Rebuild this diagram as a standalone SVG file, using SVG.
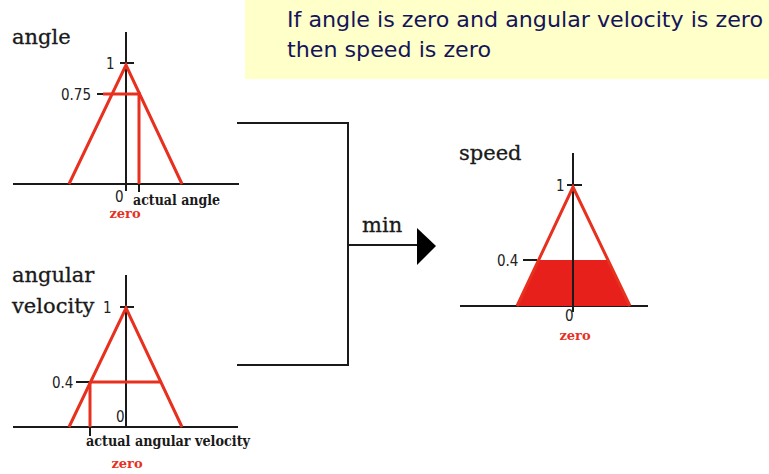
<svg xmlns="http://www.w3.org/2000/svg" width="769" height="474" viewBox="0 0 769 474">
<style>
.ax{stroke:#1a1a1a;stroke-width:2;fill:none}
.rd{stroke:#e8301f;stroke-width:3;fill:none}
.lbl{font-family:"DejaVu Serif","Liberation Serif",serif;fill:#1a1a1a;stroke:#1a1a1a;stroke-width:0.3}
.big{font-size:21px}
.sm{font-size:15px;font-family:"DejaVu Sans Condensed","Liberation Sans Narrow",sans-serif;fill:#222}
.zr{font-family:"DejaVu Serif","Liberation Serif",serif;font-size:13px;font-weight:bold;fill:#e8301f}
.act{font-family:"DejaVu Serif Condensed","DejaVu Serif","Liberation Serif",serif;font-size:14px;fill:#1a1a1a;font-weight:bold}
.rule{font-family:"DejaVu Sans","Noto Sans",sans-serif;font-size:21px;fill:#14145a}
</style>
<rect width="769" height="474" fill="#ffffff"/>
<g id="rule">
<rect x="245" y="0" width="524" height="79" fill="#ffffc9"/>
<text class="rule" x="287" y="27" textLength="476" lengthAdjust="spacingAndGlyphs">If angle is zero and angular velocity is zero</text>
<text class="rule" x="287" y="57" textLength="204" lengthAdjust="spacingAndGlyphs">then speed is zero</text>
</g>
<g id="angle">
<text class="lbl big" x="12" y="44">angle</text>
<line class="ax" x1="13" y1="184" x2="239" y2="184"/>
<line class="ax" x1="126" y1="32" x2="126" y2="191"/>
<line class="ax" x1="120" y1="63" x2="134" y2="63"/>
<line class="ax" x1="97" y1="94" x2="110" y2="94"/>
<line class="ax" x1="139" y1="184" x2="139" y2="192"/>
<polyline class="rd" points="69,184 126,65 182,184"/>
<line class="rd" x1="103" y1="94" x2="141" y2="94"/>
<line class="rd" x1="139" y1="94" x2="139" y2="184" stroke-width="4"/>
<text class="sm" x="106" y="69">1</text>
<text class="sm" x="61" y="100">0.75</text>
<text class="sm" x="115" y="202">0</text>
<text class="act" x="133" y="205">actual angle</text>
<text class="zr" x="125" y="218" text-anchor="middle">zero</text>
</g>
<g id="angular-velocity">
<text class="lbl big" x="12" y="282">angular</text>
<text class="lbl big" x="12" y="313">velocity</text>
<line class="ax" x1="13" y1="427" x2="238" y2="427"/>
<line class="ax" x1="126" y1="275" x2="126" y2="427"/>
<line class="ax" x1="120" y1="307" x2="134" y2="307"/>
<line class="ax" x1="76" y1="382" x2="90" y2="382"/>
<line class="ax" x1="90" y1="427" x2="90" y2="436"/>
<polyline class="rd" points="69,427 126,308 182,427"/>
<line class="rd" x1="90" y1="382" x2="162" y2="382"/>
<line class="rd" x1="90" y1="382" x2="90" y2="427" stroke-width="4"/>
<text class="sm" x="103" y="313">1</text>
<text class="sm" x="52" y="388">0.4</text>
<text class="sm" x="116" y="422">0</text>
<text class="act" x="86" y="446" textLength="164" lengthAdjust="spacingAndGlyphs">actual angular velocity</text>
<text class="zr" x="127" y="468" text-anchor="middle">zero</text>
</g>
<g id="speed">
<text class="lbl big" x="459" y="160">speed</text>
<line class="ax" x1="460" y1="306" x2="648" y2="306"/>
<line class="ax" x1="573" y1="153" x2="573" y2="312"/>
<line class="ax" x1="567" y1="185" x2="582" y2="185"/>
<line class="ax" x1="523" y1="260" x2="537" y2="260"/>
<polygon points="538,260 607,260 630,306 517,306" fill="#e8201c"/>
<polyline class="rd" points="517,306 573,187 630,306"/>
<line x1="573" y1="260" x2="573" y2="306" stroke="#1a1a1a" stroke-width="2"/>
<text class="sm" x="556" y="191">1</text>
<text class="sm" x="497" y="266">0.4</text>
<text class="sm" x="565" y="321">0</text>
<text class="zr" x="575" y="340" text-anchor="middle">zero</text>
</g>
<g id="connectors">
<polyline class="ax" points="237,123 348,123 348,365 237,365" stroke-width="3"/>
<line class="ax" x1="348" y1="245" x2="420" y2="245" stroke-width="3"/>
<polygon points="417,228 436,246 417,265" fill="#000"/>
<text class="lbl big" x="362" y="232">min</text>
</g>
</svg>
